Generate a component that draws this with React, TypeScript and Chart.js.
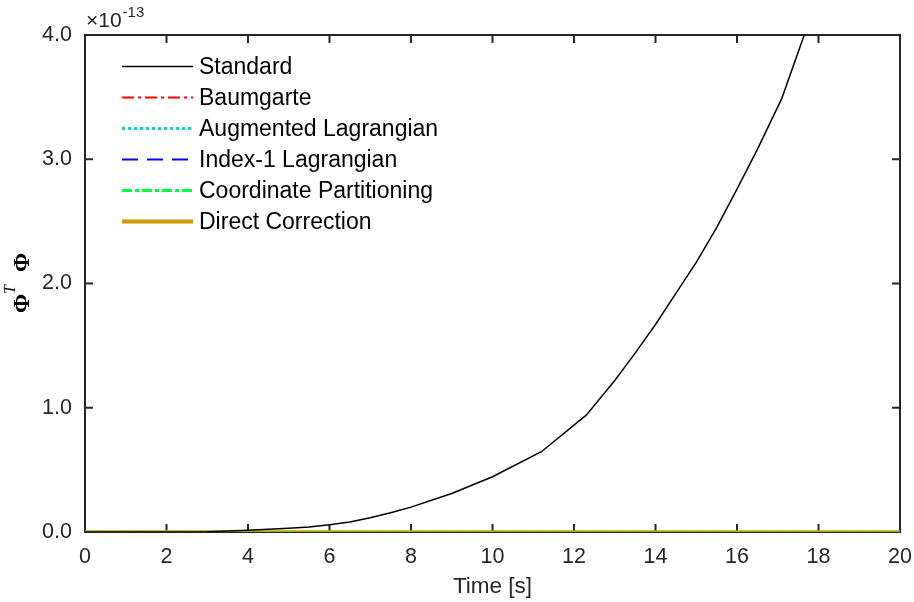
import React, { useEffect, useRef } from "react";
import { Chart, registerables } from "chart.js";

Chart.register(...registerables);

// Values on the y axis are in units of 1e-13 (shown by the "×10^-13" label)
const timeStandard = [0, 1, 2, 3, 4, 5, 5.5, 6, 6.5, 7, 7.5, 8, 9, 10, 11.2, 12.3, 13, 13.5, 14, 14.5, 15, 15.5, 16, 16.5, 17.1, 17.65, 18.5, 20];
const standardVals = [0, 0, 0, 0.003, 0.015, 0.03, 0.04, 0.058, 0.08, 0.115, 0.155, 0.2, 0.31, 0.445, 0.646, 0.94, 1.22, 1.44, 1.67, 1.92, 2.17, 2.45, 2.76, 3.08, 3.49, 4.0, 4.8, 6.5];
const timeOther = [0, 20];
const baumgarteVals = [0, 0];
const augmentedVals = [0, 0];
const index1Vals = [0, 0];
const coordinateVals = [0, 0];
const directVals = [0, 0];

const xTicks = [0, 2, 4, 6, 8, 10, 12, 14, 16, 18, 20];
const yTicks = [0, 1, 2, 3, 4];
const seriesNames = ["Standard", "Baumgarte", "Augmented Lagrangian", "Index-1 Lagrangian", "Coordinate Partitioning", "Direct Correction"];
const xLabel = "Time [s]";
const exponentLabel = "-13";

const FONT = '"Liberation Sans", Arial, Helvetica, sans-serif';
const SERIF = '"Liberation Serif", "Times New Roman", serif';
const AXIS_COLOR = "#262626";

const legendStyles = [
  { color: "#000000", width: 1.5, dash: [] as number[] },
  { color: "#FF0000", width: 2, dash: [12, 4, 3, 4] },
  { color: "#1CC8C8", width: 3, dash: [3, 3] },
  { color: "#0000FF", width: 2, dash: [16, 9] },
  { color: "#00FF40", width: 3, dash: [10, 3, 4, 3] },
  { color: "#CC9900", width: 4, dash: [] as number[] },
];

const pts = (xs: number[], ys: number[]) => xs.map((x, i) => ({ x, y: ys[i] }));

const decorPlugin = {
  id: "decor",
  beforeDatasetsDraw(chart: any) {
    const { ctx, chartArea: a, scales } = chart;
    ctx.save();
    ctx.strokeStyle = AXIS_COLOR;
    ctx.lineWidth = 2;
    ctx.strokeRect(a.left, a.top, a.right - a.left, a.bottom - a.top);
    const tl = 8;
    ctx.beginPath();
    for (const t of xTicks) {
      const x = scales.x.getPixelForValue(t);
      ctx.moveTo(x, a.bottom);
      ctx.lineTo(x, a.bottom - tl);
      ctx.moveTo(x, a.top);
      ctx.lineTo(x, a.top + tl);
    }
    for (const t of yTicks) {
      const y = scales.y.getPixelForValue(t);
      ctx.moveTo(a.left, y);
      ctx.lineTo(a.left + tl, y);
      ctx.moveTo(a.right, y);
      ctx.lineTo(a.right - tl, y);
    }
    ctx.stroke();
    ctx.restore();
  },
  afterDraw(chart: any) {
    const { ctx, chartArea: a } = chart;
    ctx.save();
    // legend
    const lx0 = 122, lx1 = 193, tx = 199, y0 = 66.5, step = 31;
    seriesNames.forEach((name, i) => {
      const y = y0 + i * step;
      const s = legendStyles[i];
      ctx.strokeStyle = s.color;
      ctx.lineWidth = s.width;
      ctx.setLineDash(s.dash);
      ctx.beginPath();
      ctx.moveTo(lx0, y);
      ctx.lineTo(lx1, y);
      ctx.stroke();
      ctx.setLineDash([]);
      ctx.fillStyle = "#000000";
      ctx.font = `23px ${FONT}`;
      ctx.textBaseline = "middle";
      ctx.textAlign = "left";
      ctx.fillText(name, tx, y + 1.5);
    });
    // exponent label
    ctx.fillStyle = AXIS_COLOR;
    ctx.textBaseline = "alphabetic";
    ctx.font = `21px ${FONT}`;
    const base = "\u00D710";
    ctx.fillText(base, 86, 27);
    const w = ctx.measureText(base).width;
    ctx.font = `15px ${FONT}`;
    ctx.fillText(exponentLabel, 86 + w + 1, 17);
    // x label
    ctx.font = `22.5px ${FONT}`;
    ctx.textAlign = "center";
    ctx.fillText(xLabel, (a.left + a.right) / 2, 593);
    // y label: Phi^T Phi, rotated
    ctx.translate(29, 313);
    ctx.rotate(-Math.PI / 2);
    ctx.textAlign = "left";
    ctx.fillStyle = "#000000";
    ctx.font = `bold 23px ${SERIF}`;
    ctx.fillText("\u03A6", 0, 0);
    ctx.font = `italic 16px ${SERIF}`;
    ctx.fillText("T", 19, -14);
    ctx.font = `bold 23px ${SERIF}`;
    ctx.fillText("\u03A6", 41, 0);
    ctx.restore();
  },
};

export default function App() {
  const ref = useRef<HTMLCanvasElement | null>(null);
  useEffect(() => {
    document.body.style.margin = "0";
    const canvas = ref.current;
    if (!canvas) return;
    const chart = new Chart(canvas, {
      type: "line",
      data: {
        datasets: [
          { label: seriesNames[0], data: pts(timeStandard, standardVals), borderColor: "#000000", borderWidth: 1.5, order: 0 },
          { label: seriesNames[4], data: pts(timeOther, coordinateVals), borderColor: "rgba(0,255,64,0.3)", borderWidth: 3, borderDash: [10, 3, 4, 3], order: 1 },
          { label: seriesNames[5], data: pts(timeOther, directVals), borderColor: "#CC9900", borderWidth: 3.5, order: 2 },
          { label: seriesNames[3], data: pts(timeOther, index1Vals), borderColor: "#0000FF", borderWidth: 1.5, borderDash: [16, 9], order: 3 },
          { label: seriesNames[2], data: pts(timeOther, augmentedVals), borderColor: "#1CC8C8", borderWidth: 2, borderDash: [3, 3], order: 4 },
          { label: seriesNames[1], data: pts(timeOther, baumgarteVals), borderColor: "#FF0000", borderWidth: 1.5, borderDash: [12, 4, 3, 4], order: 5 },
        ] as any,
      },
      options: {
        responsive: false,
        animation: false,
        parsing: false as any,
        normalized: true,
        layout: { padding: { top: 35, right: 0, left: 0, bottom: 0 } },
        elements: { point: { radius: 0 }, line: { tension: 0 } },
        plugins: { legend: { display: false }, tooltip: { enabled: false } },
        scales: {
          x: {
            type: "linear",
            min: 0,
            max: 20,
            grid: { display: false, drawTicks: false },
            border: { display: false },
            afterBuildTicks: (s: any) => { s.ticks = xTicks.map((v) => ({ value: v })); },
            ticks: { color: AXIS_COLOR, font: { family: FONT, size: 21.5 }, padding: 12, maxRotation: 0, autoSkip: false, callback: (v: any) => String(v) },
            afterFit: (s: any) => { s.height = 70; s.paddingRight = 14; s.paddingLeft = 0; },
          },
          y: {
            type: "linear",
            min: 0,
            max: 4,
            grid: { display: false, drawTicks: false },
            border: { display: false },
            afterBuildTicks: (s: any) => { s.ticks = yTicks.map((v) => ({ value: v })); },
            ticks: { color: AXIS_COLOR, font: { family: FONT, size: 21.5 }, padding: 13, autoSkip: false, callback: (v: any) => Number(v).toFixed(1) },
            afterFit: (s: any) => { s.width = 85; s.paddingTop = 0; s.paddingBottom = 0; },
          },
        },
      },
      plugins: [decorPlugin],
    });
    return () => chart.destroy();
  }, []);
  return (
    <div style={{ width: 914, height: 602, background: "#fff" }}>
      <canvas ref={ref} width={914} height={602} style={{ display: "block" }} />
    </div>
  );
}
